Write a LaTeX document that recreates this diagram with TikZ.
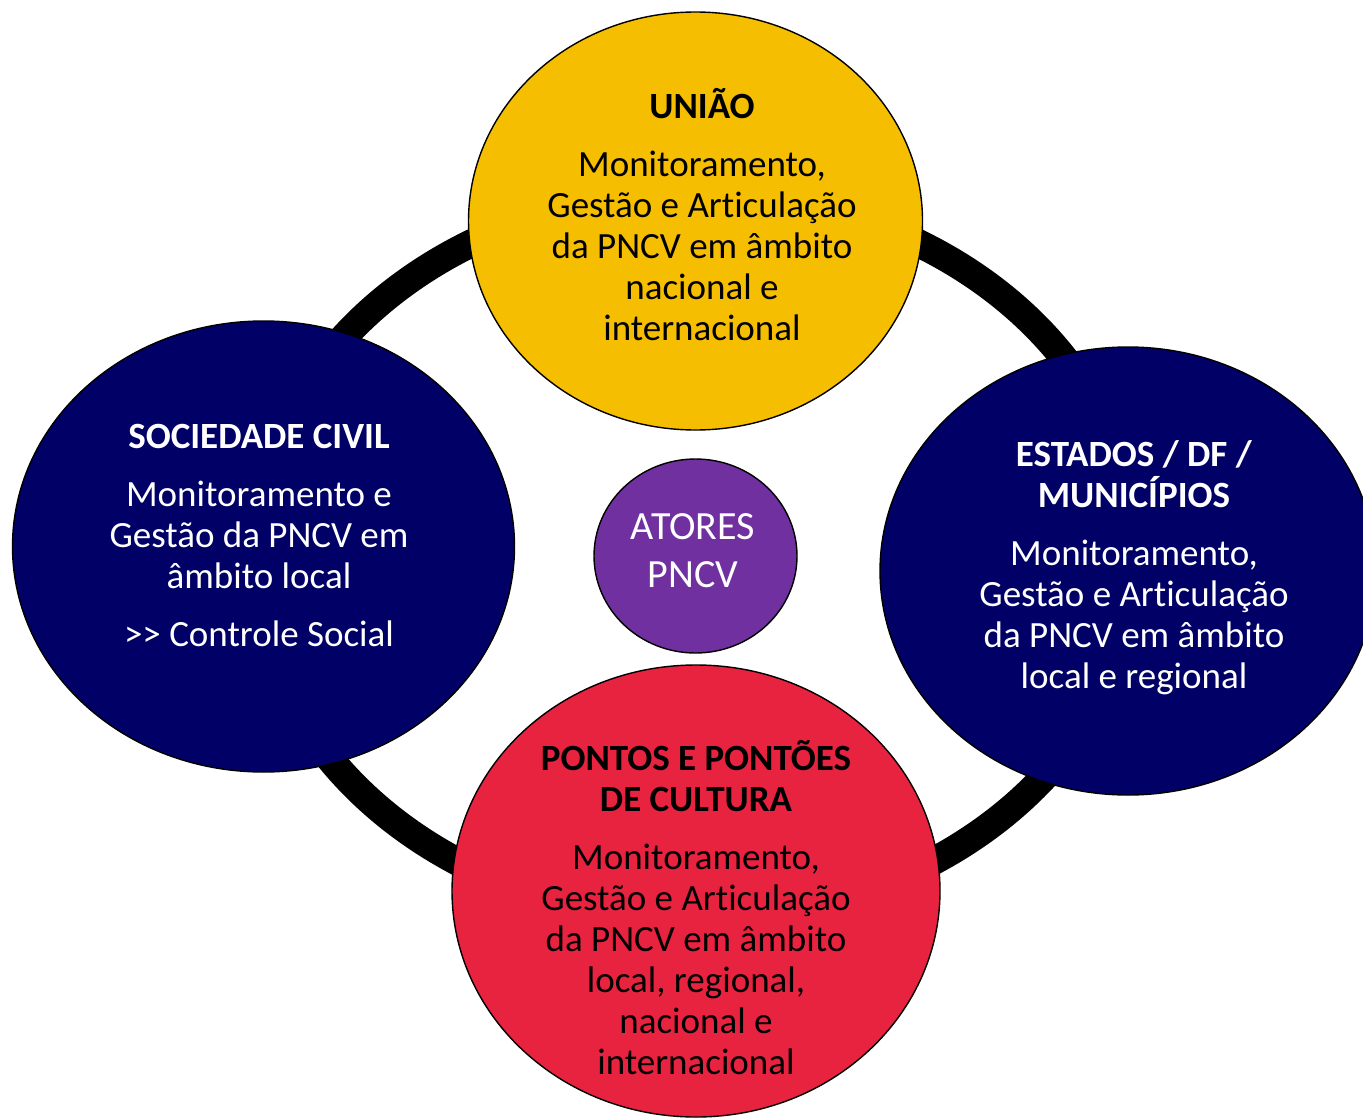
\documentclass[tikz,border=0pt]{standalone}
\usepackage{fontspec}
\setmainfont{Carlito}[Ligatures={TeX,NoCommon}]
\usetikzlibrary{shapes.geometric}
\definecolor{uyellow}{HTML}{F6BE00}
\definecolor{unavy}{HTML}{000066}
\definecolor{ured}{HTML}{E8233F}
\definecolor{upurple}{HTML}{7030A0}
\tikzset{
  blob/.style={ellipse, draw=black, line width=0.7pt, inner sep=0pt},
  bodytext/.style={align=center, inner sep=0pt, font=\fontsize{18.5pt}{20.5pt}\selectfont},
  centretext/.style={align=center, inner sep=0pt, font=\fontsize{20pt}{24pt}\selectfont, text=white},
  ringstyle/.style={ellipse, draw=black, line width=14pt, inner sep=0pt}
}
\begin{document}
\begin{tikzpicture}[x=0.5pt, y=-0.5pt]
\useasboundingbox (0,0) rectangle (1363,1118);
% ring
\node[ringstyle, minimum width=440pt, minimum height=363pt] (ring) at (695,556) {};
% circles
\node[blob, fill=uyellow, minimum width=227pt, minimum height=209pt] (uniao) at (695.5,221) {};
\node[blob, fill=unavy, minimum width=251pt, minimum height=225.5pt] (soc) at (263.5,546.5) {};
\node[blob, fill=unavy, minimum width=248pt, minimum height=224pt] (est) at (1128,571) {};
\node[blob, fill=ured, minimum width=244pt, minimum height=226pt] (pontos) at (696,891) {};
\node[blob, fill=upurple, minimum width=101.5pt, minimum height=97pt] (atores) at (695.5,556) {};
% texts
\node[bodytext, text=black] (uniaotxt) at (702,215) {\textbf{UNIÃO}\\[8.5pt]
  Monitoramento,\\ Gestão e Articulação\\ da PNCV em âmbito\\ nacional e\\ internacional};
\node[bodytext, text=white] (soctxt) at (259,535) {\textbf{SOCIEDADE CIVIL}\\[8.5pt]
  Monitoramento e\\ Gestão da PNCV em\\ âmbito local\\[8.5pt] >\kern0pt> Controle Social};
\node[bodytext, text=white] (esttxt) at (1134,568) {\textbf{ESTADOS / DF /}\\ \textbf{MUNICÍPIOS}\\[8.5pt]
  Monitoramento,\\ Gestão e Articulação\\ da PNCV em âmbito\\ local e regional};
\node[bodytext, text=black] (pontostxt) at (696,908) {\textbf{PONTOS E PONTÕES}\\ \textbf{DE CULTURA}\\[8.5pt]
  Monitoramento,\\ Gestão e Articulação\\ da PNCV em âmbito\\ local, regional,\\ nacional e\\ internacional};
\node[centretext] (atorestxt) at (693,551) {ATORES\\ PNCV};
\end{tikzpicture}
\end{document}
